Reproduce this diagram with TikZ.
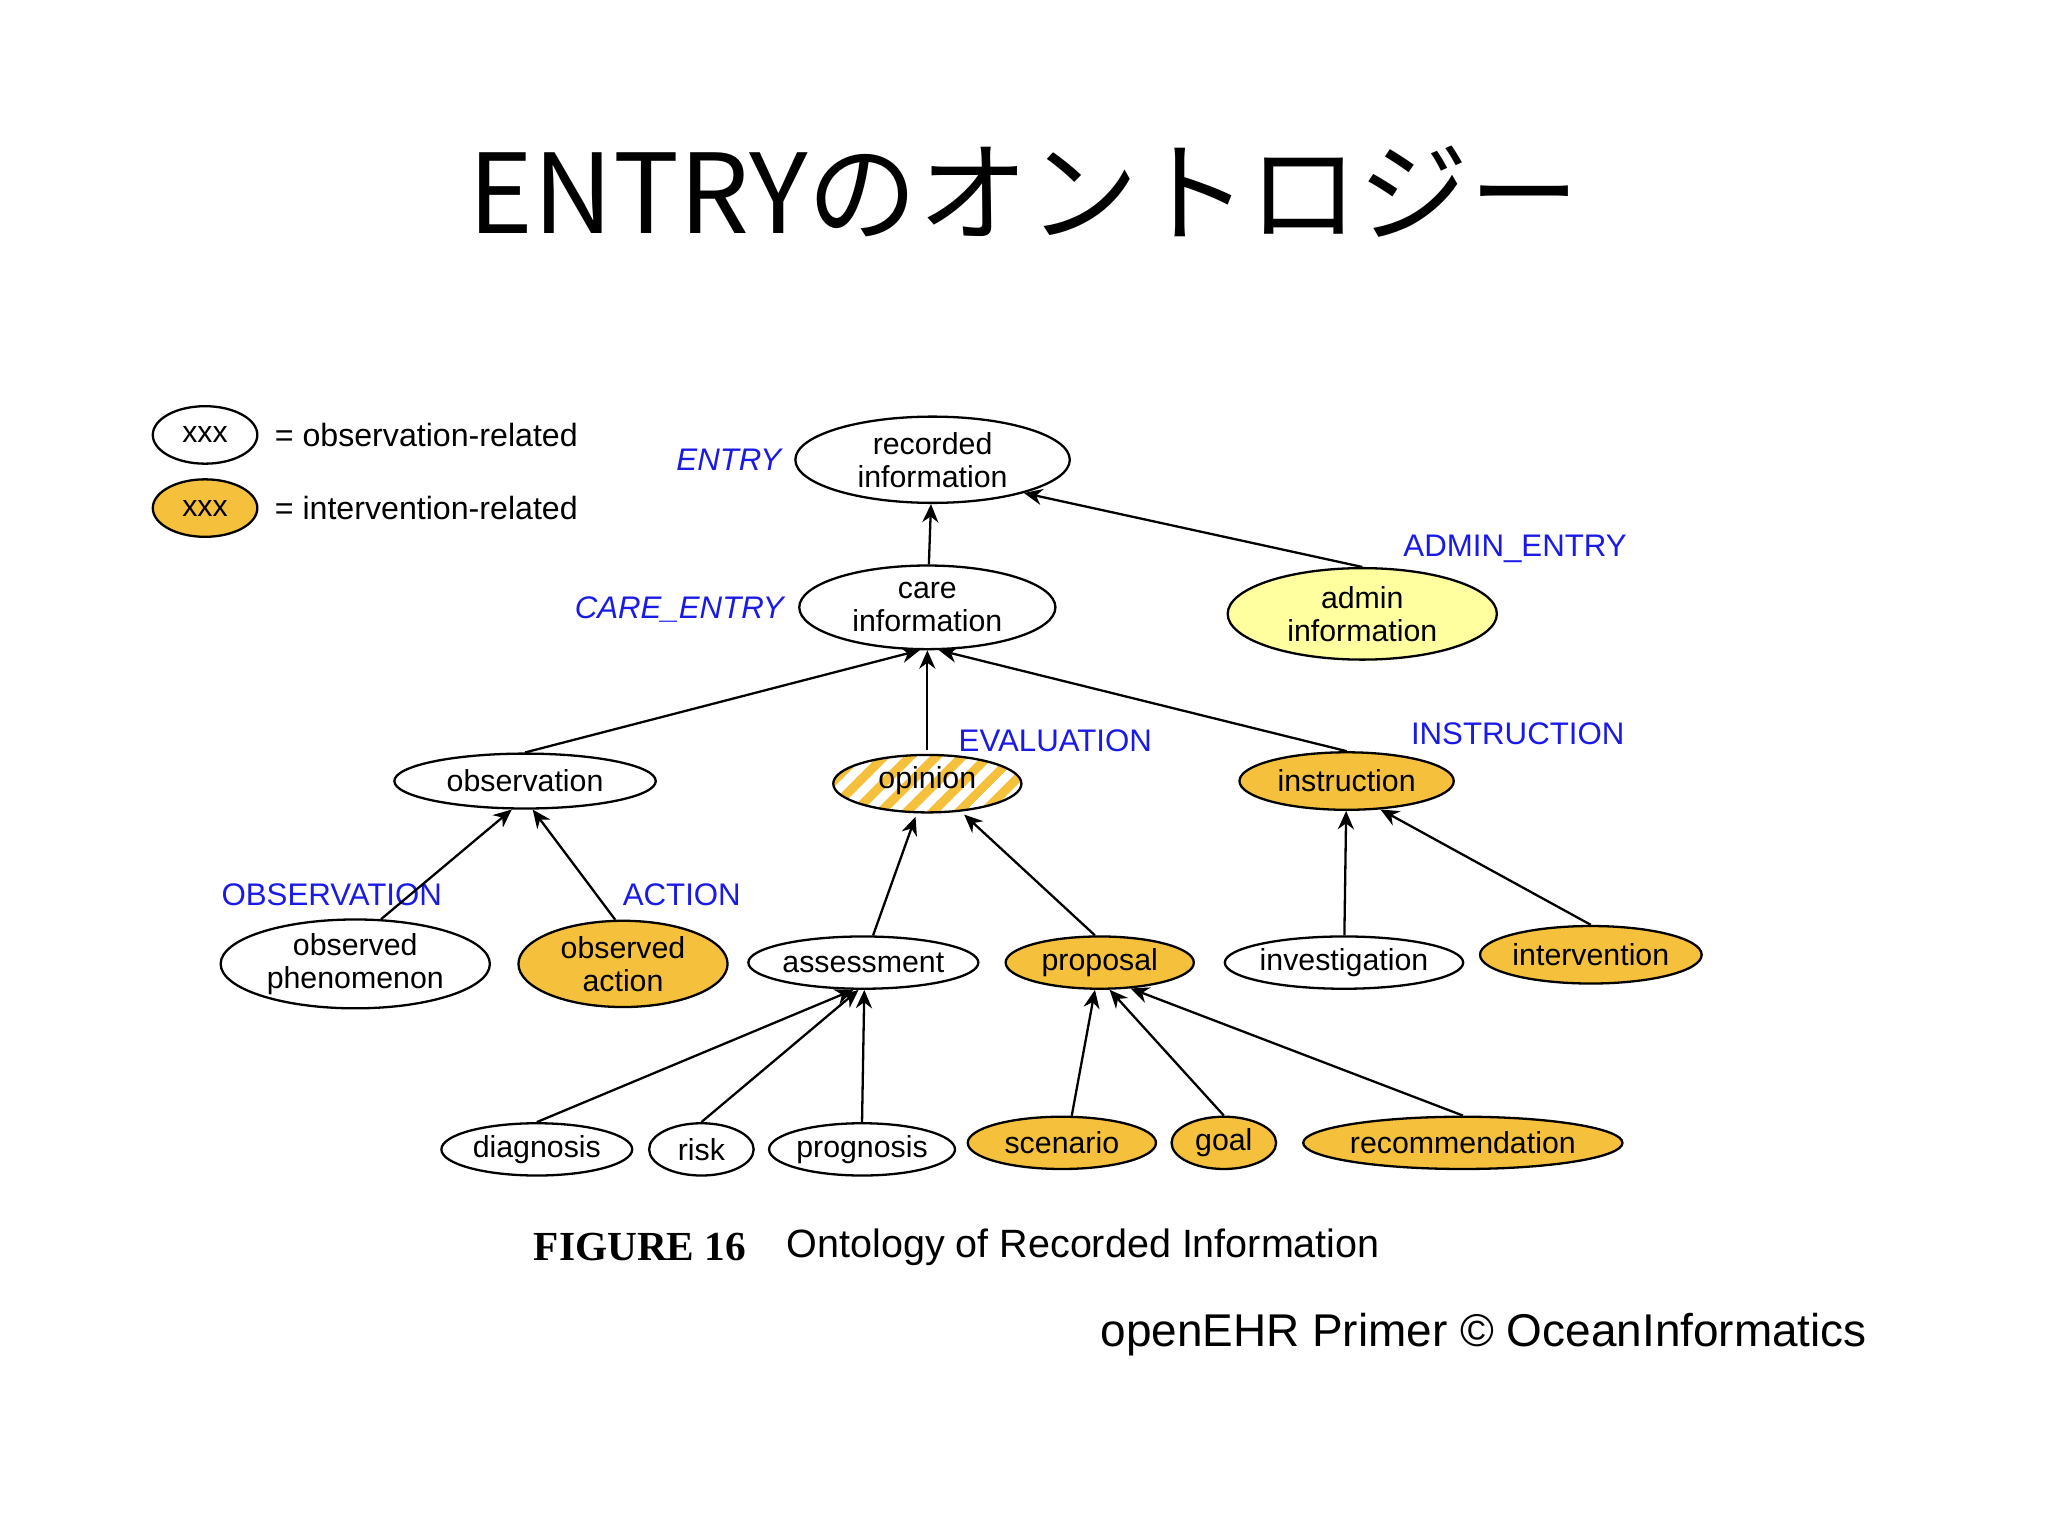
\documentclass[tikz,border=0pt]{standalone}
\usepackage{fontspec}
\setmainfont{Liberation Sans}
\newfontfamily\cjk{Noto Sans CJK JP}
\newfontfamily\serifb{Liberation Serif}
\usetikzlibrary{shapes.geometric,arrows.meta,patterns.meta}
\definecolor{orng}{HTML}{F5C03C}
\definecolor{lyel}{HTML}{FFFFA0}
\definecolor{lblue}{HTML}{1A1AE6}
\begin{document}
\begin{tikzpicture}[x=0.01cm,y=-0.01cm,
  el/.style={ellipse,draw,line width=0.5pt,inner sep=0pt,align=center,font=\fontsize{6.6}{7.2}\selectfont},
  ob/.style={el,fill=white},
  iv/.style={el,fill=orng},
  lab/.style={text=lblue,font=\fontsize{6.8}{8}\selectfont},
  arr/.style={-{Stealth[length=4pt,width=3.5pt]},line width=0.5pt}]
\useasboundingbox (0,0) rectangle (1568,1176);
\node[font=\cjk\fontsize{24}{28}\selectfont] (title) at (784,147) {ENTRYのオントロジー};
% legend
\node[ob,minimum width=0.80cm,minimum height=0.44cm] (l1) at (157,333) {xxx};
\node[iv,minimum width=0.80cm,minimum height=0.44cm] (l2) at (157,389) {xxx};
\node[anchor=west,font=\fontsize{7}{8}\selectfont] (l1t) at (198,333) {= observation-related};
\node[anchor=west,font=\fontsize{7}{8}\selectfont] (l2t) at (198,389) {= intervention-related};
% nodes
\node[ob,minimum width=2.10cm,minimum height=0.66cm] (rec) at (714,352) {recorded\\information};
\node[ob,minimum width=1.96cm,minimum height=0.64cm] (care) at (710,465) {care\\information};
\node[el,fill=lyel,minimum width=2.06cm,minimum height=0.70cm] (admin) at (1043,470) {admin\\information};
\node[ob,minimum width=2.00cm,minimum height=0.42cm] (obs) at (402,598) {observation};
\node[el,minimum width=1.44cm,minimum height=0.44cm,fill=white,pattern={Lines[angle=45,distance=4pt,line width=2pt]},pattern color=orng] (opi) at (710,600) {};
\node[font=\fontsize{6.6}{7.2}\selectfont] (opit) at (710,598) {opinion};
\node[iv,minimum width=1.64cm,minimum height=0.44cm] (ins) at (1031,598) {instruction};
\node[ob,minimum width=2.06cm,minimum height=0.68cm] (phen) at (272,738) {observed\\phenomenon};
\node[iv,minimum width=1.60cm,minimum height=0.66cm] (oact) at (477,738) {observed\\action};
\node[ob,minimum width=1.76cm,minimum height=0.40cm] (ass) at (661,737) {assessment};
\node[iv,minimum width=1.44cm,minimum height=0.40cm] (prop) at (842,737) {proposal};
\node[ob,minimum width=1.76cm,minimum height=0.40cm] (inv) at (1029,737) {investigation};
\node[iv,minimum width=1.60cm,minimum height=0.44cm] (intv) at (1218,731) {intervention};
\node[ob,minimum width=1.46cm,minimum height=0.40cm] (diag) at (411,880) {diagnosis};
\node[ob,minimum width=0.80cm,minimum height=0.40cm] (risk) at (537,880) {risk};
\node[ob,minimum width=1.40cm,minimum height=0.40cm] (prog) at (660,880) {prognosis};
\node[iv,minimum width=1.44cm,minimum height=0.40cm] (scen) at (813,875) {scenario};
\node[iv,minimum width=0.80cm,minimum height=0.40cm] (goal) at (937,875) {goal};
\node[iv,minimum width=2.34cm,minimum height=0.40cm] (recm) at (1120,875) {recommendation};
% labels
\node[lab,font=\itshape\fontsize{6.8}{8}\selectfont] (lE) at (558,352) {ENTRY};
\node[lab,font=\itshape\fontsize{6.8}{8}\selectfont] (lCE) at (520,467) {CARE\_ENTRY};
\node[lab] (lAE) at (1160,420) {ADMIN\_ENTRY};
\node[lab] (lEV) at (808,567) {EVALUATION};
\node[lab] (lIN) at (1162,562) {INSTRUCTION};
\node[lab] (lOB) at (254,685) {OBSERVATION};
\node[lab] (lAC) at (522,685) {ACTION};
% edges
\draw[arr] (care) -- (rec);
\draw[arr] (admin.north) -- (rec.-20);
\draw[arr] (obs.north) -- (care.-100);
\draw[arr] (opi) -- (care);
\draw[arr] (ins.north) -- (care.-75);
\draw[arr] (phen.60) -- (obs.-115);
\draw[arr] (oact.100) -- (obs.-75);
\draw[arr] (ass) -- (opi);
\draw[arr] (prop.100) -- (opi.-40);
\draw[arr] (inv) -- (ins);
\draw[arr] (intv.north) -- (ins.-40);
\draw[arr] (diag.north) -- (ass.-110);
\draw[arr] (risk.north) -- (ass.-100);
\draw[arr] (prog.north) -- (ass.-88);
\draw[arr] (scen.70) -- (prop.-100);
\draw[arr] (goal.north) -- (prop.-70);
\draw[arr] (recm.north) -- (prop.-40);
% caption
\node[font=\serifb\bfseries\fontsize{9}{10}\selectfont] (fig) at (490,955) {FIGURE 16};
\node[font=\fontsize{8.6}{10}\selectfont,anchor=west] (cap) at (590,955) {Ontology of Recorded Information};
\node[font=\fontsize{10}{12}\selectfont] (cr) at (1136,1022) {openEHR Primer © OceanInformatics};
\end{tikzpicture}
\end{document}
